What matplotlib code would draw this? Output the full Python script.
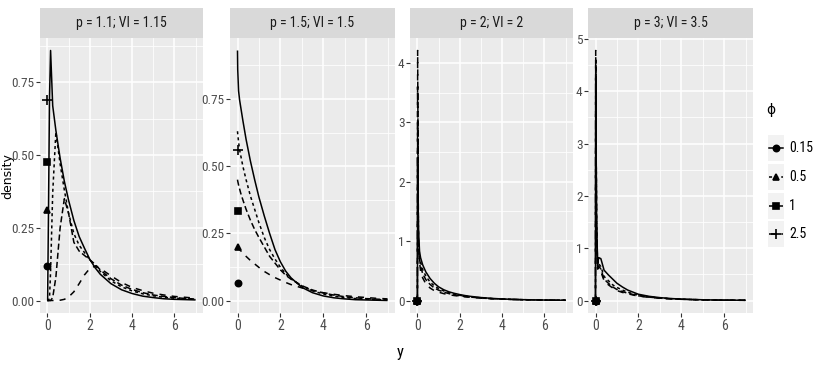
import matplotlib
matplotlib.use("Agg")
import matplotlib.pyplot as plt
from matplotlib import font_manager as fm
from matplotlib.lines import Line2D
from matplotlib.patches import Rectangle
from matplotlib.ticker import AutoMinorLocator

# ---------------- data ----------------
y_grid = [0, 0.01, 0.05, 0.1, 0.15, 0.25, 0.4, 0.6, 0.8, 1.0, 1.25, 1.5, 1.75,
          2.0, 2.25, 2.5, 3.0, 3.5, 4.0, 4.5, 5.0, 5.5, 6.0, 6.5, 7.0]
phi_levels = ["0.15", "0.5", "1", "2.5"]
panel_titles = ["p = 1.1; VI = 1.15", "p = 1.5; VI = 1.5", "p = 2; VI = 2", "p = 3; VI = 3.5"]

# p = 1.1
p11_phi015 = [0, 0.0, 0.30, 0.70, 0.86, 0.67, 0.585, 0.49, 0.41, 0.345, 0.275, 0.22, 0.18,
              0.142, 0.113, 0.09, 0.058, 0.037, 0.024, 0.015, 0.010, 0.006, 0.004, 0.003, 0.002]
p11_phi05 = [0, 0, 0, 0.01, 0.10, 0.37, 0.58, 0.47, 0.38, 0.30, 0.23, 0.19, 0.165,
             0.14, 0.12, 0.10, 0.068, 0.047, 0.033, 0.023, 0.016, 0.011, 0.008, 0.006, 0.004]
p11_phi1 = [0, 0, 0, 0, 0, 0.01, 0.08, 0.25, 0.35, 0.30, 0.20, 0.17, 0.155,
            0.14, 0.125, 0.105, 0.075, 0.053, 0.038, 0.027, 0.019, 0.014, 0.010, 0.007, 0.005]
p11_phi25 = [0, 0, 0, 0, 0, 0, 0, 0.001, 0.004, 0.012, 0.03, 0.058, 0.088,
             0.11, 0.118, 0.11, 0.085, 0.062, 0.045, 0.034, 0.025, 0.019, 0.014, 0.011, 0.008]
mass_p11 = [0.12, 0.31, 0.476, 0.69]

# p = 1.5
p15_phi015 = [0.93, 0.86, 0.78, 0.745, 0.72, 0.67, 0.60, 0.52, 0.45, 0.385, 0.315, 0.25, 0.19,
              0.145, 0.11, 0.085, 0.05, 0.03, 0.018, 0.011, 0.007, 0.004, 0.003, 0.002, 0.001]
p15_phi05 = [0.63, 0.62, 0.59, 0.56, 0.54, 0.50, 0.45, 0.39, 0.34, 0.29, 0.235, 0.19, 0.155,
             0.125, 0.10, 0.082, 0.055, 0.037, 0.025, 0.017, 0.012, 0.008, 0.006, 0.004, 0.003]
p15_phi1 = [0.45, 0.445, 0.43, 0.415, 0.40, 0.375, 0.34, 0.30, 0.265, 0.235, 0.20, 0.165, 0.14,
            0.115, 0.095, 0.08, 0.056, 0.04, 0.029, 0.021, 0.015, 0.011, 0.008, 0.006, 0.004]
p15_phi25 = [0.20, 0.199, 0.195, 0.19, 0.186, 0.177, 0.165, 0.15, 0.137, 0.124, 0.109, 0.097, 0.086,
             0.077, 0.068, 0.06, 0.048, 0.038, 0.03, 0.024, 0.019, 0.015, 0.012, 0.009, 0.007]
mass_p15 = [0.066, 0.20, 0.335, 0.56]

# p = 2
p2_phi015 = [0, 2.4, 1.2, 0.83, 0.72, 0.60, 0.48, 0.37, 0.29, 0.23, 0.18, 0.145, 0.12,
             0.10, 0.083, 0.07, 0.05, 0.036, 0.026, 0.019, 0.014, 0.010, 0.008, 0.006, 0.004]
p2_phi05 = [0, 3.0, 1.0, 0.75, 0.65, 0.52, 0.41, 0.31, 0.245, 0.20, 0.16, 0.13, 0.105,
            0.088, 0.074, 0.062, 0.045, 0.033, 0.024, 0.018, 0.013, 0.010, 0.007, 0.005, 0.004]
p2_phi1 = [0, 3.6, 0.95, 0.70, 0.58, 0.45, 0.35, 0.27, 0.21, 0.175, 0.14, 0.115, 0.095,
           0.08, 0.068, 0.058, 0.042, 0.031, 0.023, 0.017, 0.013, 0.010, 0.007, 0.005, 0.004]
p2_phi25 = [0, 4.21, 0.90, 0.65, 0.50, 0.38, 0.28, 0.21, 0.165, 0.14, 0.115, 0.097, 0.083,
            0.072, 0.062, 0.054, 0.04, 0.03, 0.023, 0.018, 0.014, 0.011, 0.008, 0.006, 0.005]
mass_p2 = [0, 0, 0, 0]

# p = 3
p3_phi015 = [0, 4.25, 1.6, 0.70, 0.82, 0.80, 0.58, 0.49, 0.41, 0.33, 0.26, 0.20, 0.16,
             0.12, 0.10, 0.08, 0.055, 0.038, 0.027, 0.02, 0.014, 0.010, 0.008, 0.006, 0.004]
p3_phi05 = [0, 4.5, 1.5, 0.65, 0.70, 0.65, 0.46, 0.38, 0.30, 0.25, 0.20, 0.16, 0.13,
            0.10, 0.085, 0.07, 0.05, 0.035, 0.025, 0.018, 0.013, 0.010, 0.007, 0.005, 0.004]
p3_phi1 = [0, 4.6, 1.4, 0.62, 0.66, 0.60, 0.41, 0.33, 0.26, 0.21, 0.17, 0.14, 0.115,
           0.09, 0.078, 0.065, 0.046, 0.033, 0.024, 0.017, 0.013, 0.009, 0.007, 0.005, 0.004]
p3_phi25 = [0, 4.78, 1.3, 0.60, 0.62, 0.55, 0.38, 0.30, 0.24, 0.19, 0.155, 0.13, 0.105,
            0.085, 0.072, 0.06, 0.043, 0.031, 0.023, 0.017, 0.012, 0.009, 0.007, 0.005, 0.004]
mass_p3 = [0, 0, 0, 0]

x_ticks = [0, 2, 4, 6]
yticks_p11 = [0, 0.25, 0.5, 0.75]
yticks_p15 = [0, 0.25, 0.5, 0.75]
yticks_p2 = [0, 1, 2, 3, 4]
yticks_p3 = [0, 1, 2, 3, 4, 5]
ylabels_p11 = ["0.00", "0.25", "0.50", "0.75"]
ylabels_p15 = ["0.00", "0.25", "0.50", "0.75"]
ylabels_p2 = ["0", "1", "2", "3", "4"]
ylabels_p3 = ["0", "1", "2", "3", "4", "5"]

panels = [
    ([p11_phi015, p11_phi05, p11_phi1, p11_phi25], mass_p11, yticks_p11, ylabels_p11),
    ([p15_phi015, p15_phi05, p15_phi1, p15_phi25], mass_p15, yticks_p15, ylabels_p15),
    ([p2_phi015, p2_phi05, p2_phi1, p2_phi25], mass_p2, yticks_p2, ylabels_p2),
    ([p3_phi015, p3_phi05, p3_phi1, p3_phi25], mass_p3, yticks_p3, ylabels_p3),
]

# ---------------- font: look for a condensed face ----------------
def _stretch_ok(f):
    st = f.stretch
    if isinstance(st, (int, float)):
        return st < 500
    return 'condensed' in str(st).lower() or 'narrow' in str(st).lower()

def _weight_ok(f):
    w = f.weight
    if isinstance(w, (int, float)):
        return 350 <= w <= 450
    return str(w).lower() in ('normal', 'regular', 'book', 'medium')

priority = ['Liberation Sans Narrow', 'Roboto Condensed', 'Open Sans Condensed',
            'Noto Sans', 'Open Sans', 'DejaVu Sans', 'Roboto', 'Lato', 'Inter']
narrow_fp = None
found = []
for f in fm.fontManager.ttflist:
    if f.style != 'normal' or not _weight_ok(f):
        continue
    if 'Narrow' in f.name or 'Condensed' in f.name or _stretch_ok(f):
        found.append(f)
for pname in priority:
    hits = [f for f in found if f.name == pname or f.name.startswith(pname)]
    if hits:
        narrow_fp = fm.FontProperties(fname=hits[0].fname)
        break
if narrow_fp is None and found:
    narrow_fp = fm.FontProperties(fname=found[0].fname)
scale = 1.0
if narrow_fp is None:
    narrow_fp = fm.FontProperties(family=['Liberation Sans', 'DejaVu Sans'])
    scale = 0.9


def nfp(size):
    p = narrow_fp.copy()
    p.set_size(size * scale)
    return p

# ---------------- style ----------------
W, H = 817, 368
linestyles = ['-', (0, (2, 2)), (0, (4, 2)), (0, (4, 4))]
markers = ['o', '^', 's', '+']
msizes = [4.5, 5, 4.5, 7]
LW = 1.1

fig = plt.figure(figsize=(W / 100, H / 100), dpi=100)
fig.patch.set_facecolor('white')

panel_px = [(40, 203), (230, 395), (410, 573), (588, 753)]
top_px, bot_px, strip_top = 38, 313, 8


def fx(px):
    return px / W


def fy(py):
    return 1 - py / H


for (l, r), (series, mass, yt, yl), title in zip(panel_px, panels, panel_titles):
    ax = fig.add_axes([fx(l), fy(bot_px), fx(r - l), (bot_px - top_px) / H])
    ax.set_facecolor('#EBEBEB')
    for dens, ls in zip(series, linestyles):
        ax.plot(y_grid, dens, color='black', lw=LW, ls=ls, solid_capstyle='butt')
    for m, mk, ms in zip(mass, markers, msizes):
        ax.plot([0], [m], marker=mk, color='black', ms=ms, mew=1.2, ls='none')
    ax.set_xlim(-0.35, 7.35)
    ax.margins(y=0.05)
    ax.set_xticks(x_ticks)
    ax.set_xticklabels([str(t) for t in x_ticks], fontproperties=nfp(10), color='#4D4D4D')
    ax.set_yticks(yt)
    ax.set_yticklabels(yl, fontproperties=nfp(9.5), color='#4D4D4D')
    ax.xaxis.set_minor_locator(AutoMinorLocator(2))
    ax.yaxis.set_minor_locator(AutoMinorLocator(2))
    ax.grid(which='major', color='white', lw=1.1)
    ax.grid(which='minor', color='white', lw=0.55)
    ax.set_axisbelow(True)
    for s in ax.spines.values():
        s.set_visible(False)
    ax.tick_params(which='major', length=3, width=0.8, color='#333333', pad=1.5)
    ax.tick_params(axis='y', which='major', pad=1.0)
    ax.tick_params(which='minor', length=0)

    sax = fig.add_axes([fx(l), fy(top_px), fx(r - l), (top_px - strip_top) / H])
    sax.set_facecolor('#D9D9D9')
    sax.set_xticks([])
    sax.set_yticks([])
    for s in sax.spines.values():
        s.set_visible(False)
    sax.text(0.5, 0.5, title, ha='center', va='center', fontproperties=nfp(10),
             color='#1A1A1A', transform=sax.transAxes)

fig.text(fx(7.5), fy(176), 'density', rotation=90, ha='center', va='center',
         fontsize=9, family='DejaVu Sans', color='black')
fig.text(fx(400), fy(352), 'y', ha='center', va='center', fontproperties=nfp(12),
         color='black')

# legend
fig.text(fx(766), fy(110), 'ϕ', ha='left', va='center', fontsize=10,
         family=['DejaVu Sans'], color='black')
key_centers = [148.5, 177, 205.5, 234]
kx0, kx1, kh = 768, 784, 26
for c, ls, mk, ms, lab in zip(key_centers, linestyles, markers, msizes, phi_levels):
    fig.add_artist(Rectangle((fx(kx0), fy(c + kh / 2)), fx(kx1 - kx0), kh / H,
                             transform=fig.transFigure, facecolor='#F2F2F2', edgecolor='none'))
    fig.add_artist(Line2D([fx(kx0 + 1), fx(kx1 - 1)], [fy(c), fy(c)], transform=fig.transFigure,
                          color='black', lw=LW, ls=ls))
    fig.add_artist(Line2D([fx((kx0 + kx1) / 2)], [fy(c)], transform=fig.transFigure,
                          color='black', marker=mk, ms=ms, mew=1.2, ls='none'))
    fig.text(fx(789), fy(c), lab, ha='left', va='center', fontproperties=nfp(10),
             color='black')

fig.savefig('out.png', dpi=100)
